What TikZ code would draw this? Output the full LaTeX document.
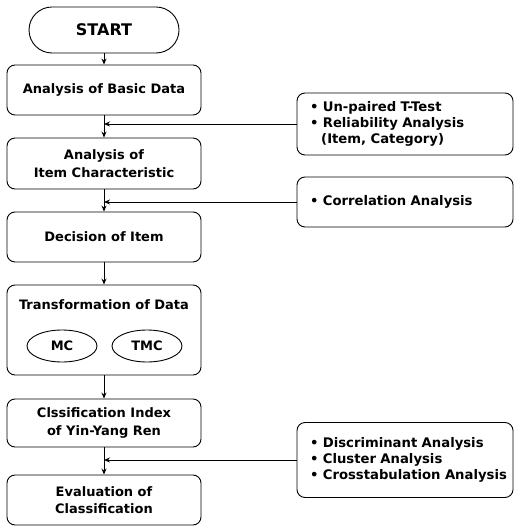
\documentclass[tikz,border=0pt]{standalone}
\usepackage{fontspec}
\setmainfont{DejaVu Sans}
\usetikzlibrary{arrows.meta,shapes.geometric}
\begin{document}
\begin{tikzpicture}[x=1pt, y=-1pt, line width=0.9pt, line join=round,
		font=\bfseries\fontsize{13}{17.5}\selectfont,
		>={Stealth[length=6pt,width=5pt]},
		mainbox/.style={draw, rounded corners=8pt, minimum width=194pt, align=center},
		sidebox/.style={draw, rounded corners=8pt, minimum width=216pt, text width=190pt, inner xsep=13pt, align=left, font=\bfseries\fontsize{13.2}{16}\selectfont},
		oval/.style={draw, ellipse, minimum width=70pt, minimum height=32pt}]
	\useasboundingbox (0,0) rectangle (515,526);
	% main flow
	\node[draw, rounded corners=23pt, minimum width=150pt, minimum height=46pt, font=\bfseries\fontsize{16}{18}\selectfont] (start) at (104,30) {START};
	\node[mainbox, minimum height=50pt] (basic) at (104,90) {Analysis of Basic Data};
	\node[mainbox, minimum height=51pt] (itemch) at (104,163.5) {Analysis of\\Item Characteristic};
	\node[mainbox, minimum height=50pt] (decis) at (104,237) {Decision of Item};
	\node[mainbox, minimum height=90pt] (trans) at (104,330) {};
	\node (transt) at (104,305) {Transformation of Data};
	\node[oval] (mc) at (62,346) {MC};
	\node[oval] (tmc) at (147,346) {TMC};
	\node[mainbox, minimum height=48pt] (index) at (104,423) {Clssification Index\\of Yin-Yang Ren};
	\node[mainbox, minimum height=50pt] (evalc) at (104,500) {Evaluation of\\Classification};
	% side analyses
	\node[sidebox, minimum height=62pt] (ttest) at (405,124) {\textbullet\ Un-paired T-Test\\\textbullet\ Reliability Analysis\\\hspace*{0.85em}(Item, Category)};
	\node[sidebox, minimum height=50pt] (corr) at (405,202) {\textbullet\ Correlation Analysis};
	\node[sidebox, minimum height=75pt] (discr) at (405,460) {\textbullet\ Discriminant Analysis\\\textbullet\ Cluster Analysis\\\mbox{\textbullet\ Crosstabulation Analysis}};
	\coordinate (j1) at (104,124);
	\coordinate (j2) at (104,202);
	\coordinate (j3) at (104,460);
	\foreach \a/\b in {start/basic, basic/itemch, itemch/decis, decis/trans, trans/index, index/evalc}
		\draw[->] (\a) -- (\b);
	\foreach \s/\j in {ttest/j1, corr/j2, discr/j3}
		\draw[->] (\s.west) -- (\j);
\end{tikzpicture}
\end{document}
